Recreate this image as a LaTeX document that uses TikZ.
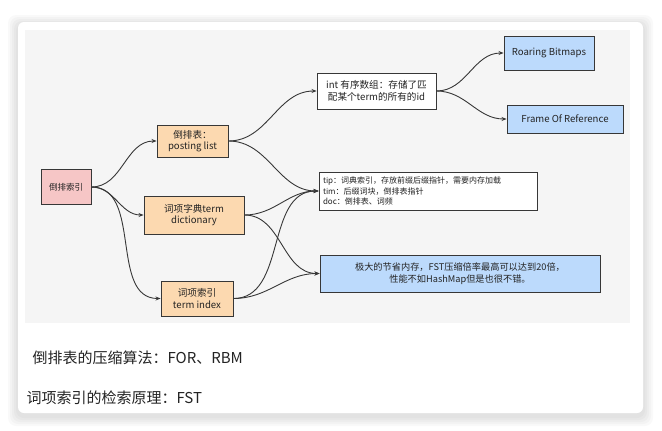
\documentclass[tikz,border=0pt]{standalone}
\usepackage{fontspec}
\setmainfont{Noto Sans CJK SC}
\usetikzlibrary{arrows.meta}
\definecolor{kante}{RGB}{55,55,55}
\definecolor{rosa}{RGB}{246,198,198}
\definecolor{pfirsich}{RGB}{252,217,176}
\definecolor{hellblau}{RGB}{188,218,252}
\definecolor{flaeche}{RGB}{245,245,245}
\definecolor{schrift}{RGB}{35,35,35}
\tikzset{>={Stealth[length=5pt,width=4pt]}}
\tikzset{
  box/.style={draw=kante, line width=0.9pt, align=center, inner sep=1pt,
              text=schrift, font=\fontsize{9.6}{11.5}\selectfont},
  verb/.style={kante, line width=0.9pt, ->}
}

\begin{document}
\begin{tikzpicture}[x=1pt, y=-1pt]
	\useasboundingbox (0,0) rectangle (662,431);

	% shadow, card and canvas
	\foreach \s in {10,8,6,4,2}
		\fill[black, opacity=0.025, rounded corners=8] (18-\s,22-\s+3) rectangle (643+\s,413+\s+3);
	\fill[white, rounded corners=6] (18,22) rectangle (643,413);
	\fill[flaeche] (25,30) rectangle (630,323);

	% nodes
	\node[box, fill=rosa, minimum width=50, minimum height=35, font=\fontsize{8.5}{10}\selectfont] (idx) at (66,187) {倒排索引};
	\node[box, fill=pfirsich, minimum width=71, minimum height=32] (post) at (192.5,141) {倒排表：\\posting list};
	\node[box, fill=pfirsich, minimum width=100, minimum height=38] (dict) at (194,215) {词项字典term\\dictionary};
	\node[box, fill=pfirsich, minimum width=72, minimum height=35] (term) at (197,298.5) {词项索引\\term index};
	\node[box, fill=white, minimum width=119, minimum height=36] (arr) at (376.5,91) {int 有序数组：存储了匹\\配某个term的所有的id};
	\node[box, fill=white, minimum width=218, minimum height=38, align=left,
	      font=\fontsize{8}{10.5}\selectfont, text width=210] (tip) at (428,191)
	      {tip：词典索引，存放前缀后缀指针，需要内存加载\\tim：后缀词块，倒排表指针\\doc：倒排表、词频};
	\node[box, fill=hellblau, minimum width=280, minimum height=37, font=\fontsize{9.2}{12}\selectfont] (fst) at (460,273.5)
	      {极大的节省内存，FST压缩倍率最高可以达到20倍，\\性能不如HashMap但是也很不错。};
	\node[box, fill=hellblau, minimum width=90, minimum height=34] (rbm) at (549,53) {Roaring Bitmaps};
	\node[box, fill=hellblau, minimum width=116, minimum height=28] (for) at (565,119) {Frame Of Reference};

	% connectors
	\draw[verb] (idx.east) to[out=0, in=180] (post.west);
	\draw[verb] (idx.east) to[out=0, in=180] (dict.west);
	\draw[verb] (idx.east) to[out=0, in=180] (term.west);
	\draw[verb] (post.east) to[out=0, in=180] (arr.west);
	\draw[verb] (post.east) to[out=0, in=180] (tip.west);
	\draw[verb] (dict.east) to[out=0, in=180] (tip.west);
	\draw[verb] (dict.east) to[out=0, in=180] (fst.west);
	\draw[verb] (term.east) to[out=0, in=180] (tip.west);
	\draw[verb] (term.east) to[out=0, in=180] (fst.west);
	\draw[verb] (arr.east) to[out=0, in=180] (rbm.west);
	\draw[verb] (arr.east) to[out=0, in=180] (for.west);

	% notes below
	\node[anchor=west, text=schrift, font=\fontsize{15}{17}\selectfont] (note1) at (29,358) {倒排表的压缩算法：FOR、RBM};
	\node[anchor=west, text=schrift, font=\fontsize{15}{17}\selectfont] (note2) at (23,398) {词项索引的检索原理：FST};

\end{tikzpicture}
\end{document}
